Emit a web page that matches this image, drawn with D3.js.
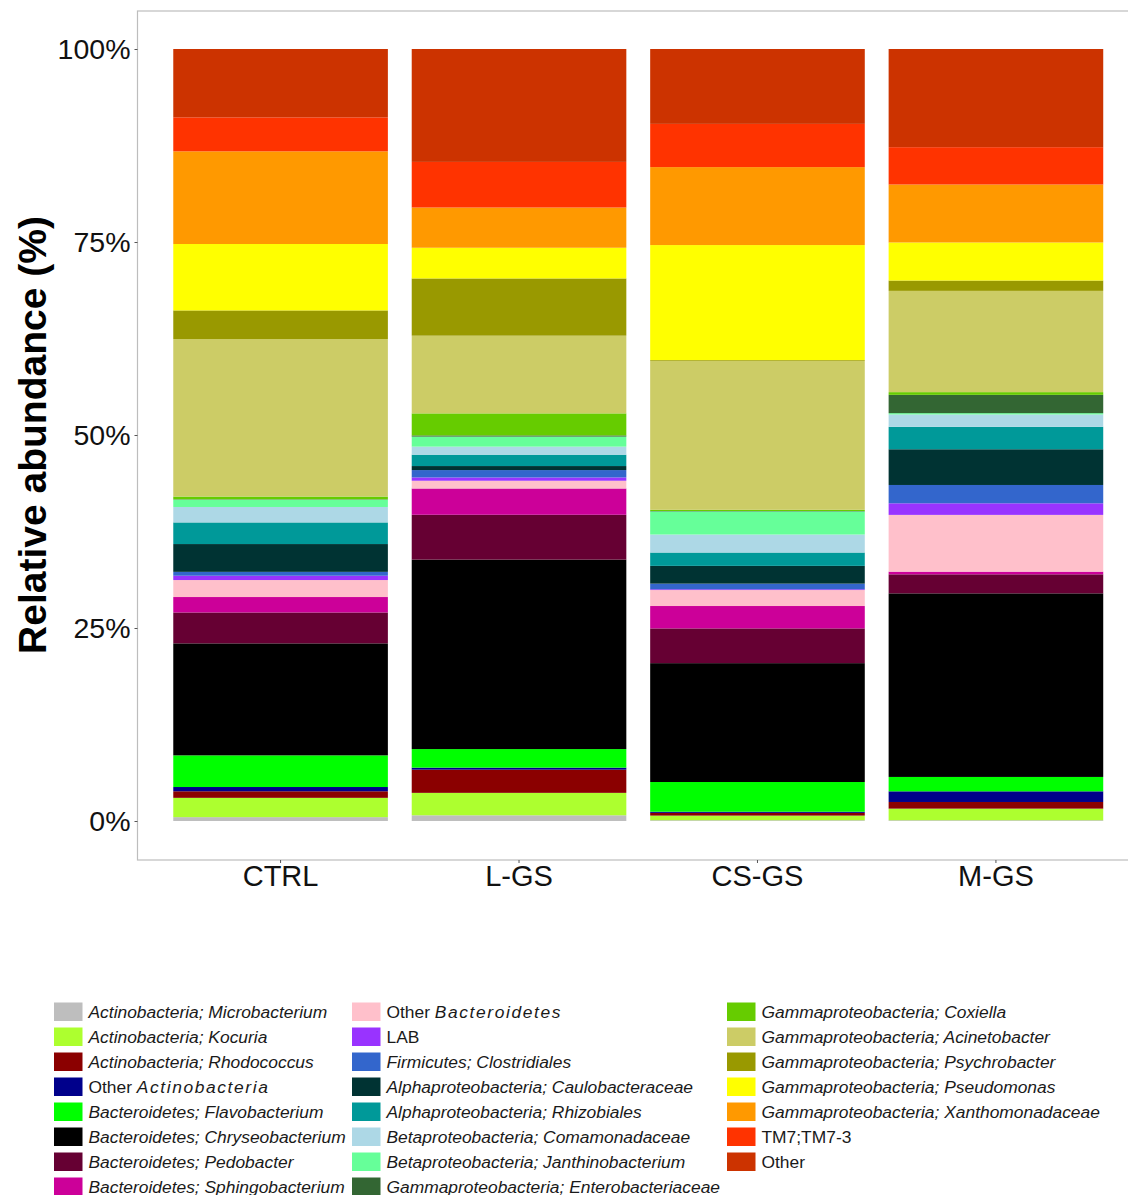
<!DOCTYPE html>
<html>
<head>
<meta charset="utf-8">
<script src="https://cdn.jsdelivr.net/npm/d3@7"></script>
<style>
  body { margin: 0; background: #fff; }
  svg { display: block; font-family: 'Liberation Sans', Arial, sans-serif; }
</style>
</head>
<body>
<svg id="chart" width="1128" height="1195"></svg>
<script>
const WIDTH  = 1128;
const HEIGHT = 1195;

// groups on the x axis
const groups = ['CTRL', 'L-GS', 'CS-GS', 'M-GS'];

// taxa, bottom of the stack first (same order as the legend)
const taxa = [
  'Actinobacteria; Microbacterium',
  'Actinobacteria; Kocuria',
  'Actinobacteria; Rhodococcus',
  'Other Actinobacteria',
  'Bacteroidetes; Flavobacterium',
  'Bacteroidetes; Chryseobacterium',
  'Bacteroidetes; Pedobacter',
  'Bacteroidetes; Sphingobacterium',
  'Other Bacteroidetes',
  'LAB',
  'Firmicutes; Clostridiales',
  'Alphaproteobacteria; Caulobacteraceae',
  'Alphaproteobacteria; Rhizobiales',
  'Betaproteobacteria; Comamonadaceae',
  'Betaproteobacteria; Janthinobacterium',
  'Gammaproteobacteria; Enterobacteriaceae',
  'Gammaproteobacteria; Coxiella',
  'Gammaproteobacteria; Acinetobacter',
  'Gammaproteobacteria; Psychrobacter',
  'Gammaproteobacteria; Pseudomonas',
  'Gammaproteobacteria; Xanthomonadaceae',
  'TM7;TM7-3',
  'Other'
];

const colors = [
  '#bebebe', '#adff2f', '#8b0000', '#00008b', '#00ff00', '#000000',
  '#660033', '#cc0099', '#ffc0cb', '#9933ff', '#3366cc', '#003333',
  '#009999', '#add8e6', '#66ff99', '#336633', '#66cc00', '#cccc66',
  '#999900', '#ffff00', '#ff9900', '#ff3300', '#cc3300'
];

// relative abundance (%) per group, in taxa order
const ctrl = [0.5, 2.5, 0.85, 0.55, 4.1, 14.5, 4.0, 2.0, 2.2, 0.56, 0.5, 3.6,
              2.8, 2.0, 0.95, 0.05, 0.35, 20.4, 3.7, 8.6, 12.0, 4.4, 8.85];
const lgs  = [0.74, 2.9, 3.0, 0.26, 2.4, 24.5, 5.8, 3.4, 1.0, 0.43, 0.95, 0.52,
              1.47, 1.04, 1.3, 0.15, 2.85, 10.05, 7.4, 3.97, 5.2, 5.9, 14.6];
const csgs = [0.1, 0.6, 0.35, 0.15, 3.85, 15.4, 4.5, 2.9, 2.07, 0.1, 0.73, 2.3,
              1.73, 2.33, 3.0, 0.05, 0.15, 19.3, 0.1, 14.9, 10.1, 5.6, 9.7];
const mgs  = [0.1, 1.5, 0.86, 1.38, 1.86, 23.75, 2.46, 0.35, 7.34, 1.5, 2.37, 4.62,
              2.9, 1.6, 0.17, 2.37, 0.35, 13.1, 1.34, 4.92, 7.5, 4.83, 12.7];

const yTicks = [0, 0.25, 0.5, 0.75, 1];

const uprightLabels = ['LAB', 'TM7;TM7-3', 'Other'];

// build table for d3.stack
const series = [ctrl, lgs, csgs, mgs];
const table = groups.map((g, i) => {
  const row = { group: g };
  taxa.forEach((t, j) => { row[t] = series[i][j]; });
  return row;
});

const panel = { left: 137.5, top: 11, right: 1139, bottom: 860 };

const svg = d3.select('#chart');

const x = d3.scaleBand()
  .domain(groups)
  .range([panel.left, panel.right])
  .paddingInner(0.1)
  .paddingOuter(0.15);

const y = d3.scaleLinear()
  .domain([0, 1])
  .range([821, 49]);

const color = d3.scaleOrdinal().domain(taxa).range(colors);

const stacked = d3.stack()
  .keys(taxa)
  .offset(d3.stackOffsetExpand)(table);

// bars
svg.append('g')
  .selectAll('g')
  .data(stacked)
  .join('g')
    .attr('fill', d => color(d.key))
  .selectAll('rect')
  .data(d => d)
  .join('rect')
    .attr('x', d => x(d.data.group))
    .attr('width', x.bandwidth())
    .attr('y', d => y(d[1]))
    .attr('height', d => Math.max(0, y(d[0]) - y(d[1])));

// panel border
svg.append('rect')
  .attr('x', panel.left)
  .attr('y', panel.top)
  .attr('width', panel.right - panel.left)
  .attr('height', panel.bottom - panel.top)
  .attr('fill', 'none')
  .attr('stroke', '#bdbdbd')
  .attr('stroke-width', 1.2);

// y axis
const yAxis = svg.append('g')
  .attr('transform', `translate(${panel.left},0)`)
  .call(d3.axisLeft(y).tickValues(yTicks).tickFormat(d3.format('.0%'))
    .tickSize(3).tickPadding(4));
yAxis.select('.domain').remove();
yAxis.selectAll('line').attr('stroke', '#555');
yAxis.selectAll('text')
  .attr('font-size', 28.5)
  .attr('fill', '#111')
  .attr('font-family', "'Liberation Sans', Arial, sans-serif");

// x axis
const xAxis = svg.append('g')
  .attr('transform', `translate(0,${panel.bottom})`)
  .call(d3.axisBottom(x).tickSize(3).tickPadding(2));
xAxis.select('.domain').remove();
xAxis.selectAll('line').attr('stroke', '#555');
xAxis.selectAll('text')
  .attr('font-size', 29)
  .attr('fill', '#111')
  .attr('font-family', "'Liberation Sans', Arial, sans-serif");

// y title
svg.append('text')
  .attr('transform', `translate(46,${(y(0) + y(1)) / 2}) rotate(-90)`)
  .attr('text-anchor', 'middle')
  .attr('font-size', 39)
  .attr('font-weight', 'bold')
  .attr('fill', '#000')
  .text('Relative abundance (%)');

// legend: three columns
const colX     = [54, 352, 727];
const perCol   = [8, 8, 7];
const rowStart = 1011.5;
const rowStep  = 25;

const legendItems = [];
let k = 0;
perCol.forEach((n, c) => {
  for (let r = 0; r < n; r++, k++) {
    legendItems.push({ key: taxa[k], col: c, row: r });
  }
});

const legend = svg.append('g')
  .selectAll('g')
  .data(legendItems)
  .join('g')
    .attr('transform', d => `translate(${colX[d.col]},${rowStart + d.row * rowStep})`);

legend.append('rect')
  .attr('x', 0)
  .attr('y', -9)
  .attr('width', 28.5)
  .attr('height', 18.5)
  .attr('fill', d => color(d.key));

const labels = legend.append('text')
  .attr('x', 34.5)
  .attr('y', 6)
  .attr('font-size', 17.4)
  .attr('fill', '#1a1a1a');

labels.each(function(d) {
  const t = d3.select(this);
  if (uprightLabels.includes(d.key)) {
    t.text(d.key);
  } else if (d.key.startsWith('Other ')) {
    t.append('tspan').text('Other ');
    t.append('tspan')
      .attr('font-style', 'italic')
      .attr('letter-spacing', 1.6)
      .text(d.key.slice(6));
  } else {
    t.attr('font-style', 'italic').text(d.key);
  }
});
</script>
</body>
</html>
